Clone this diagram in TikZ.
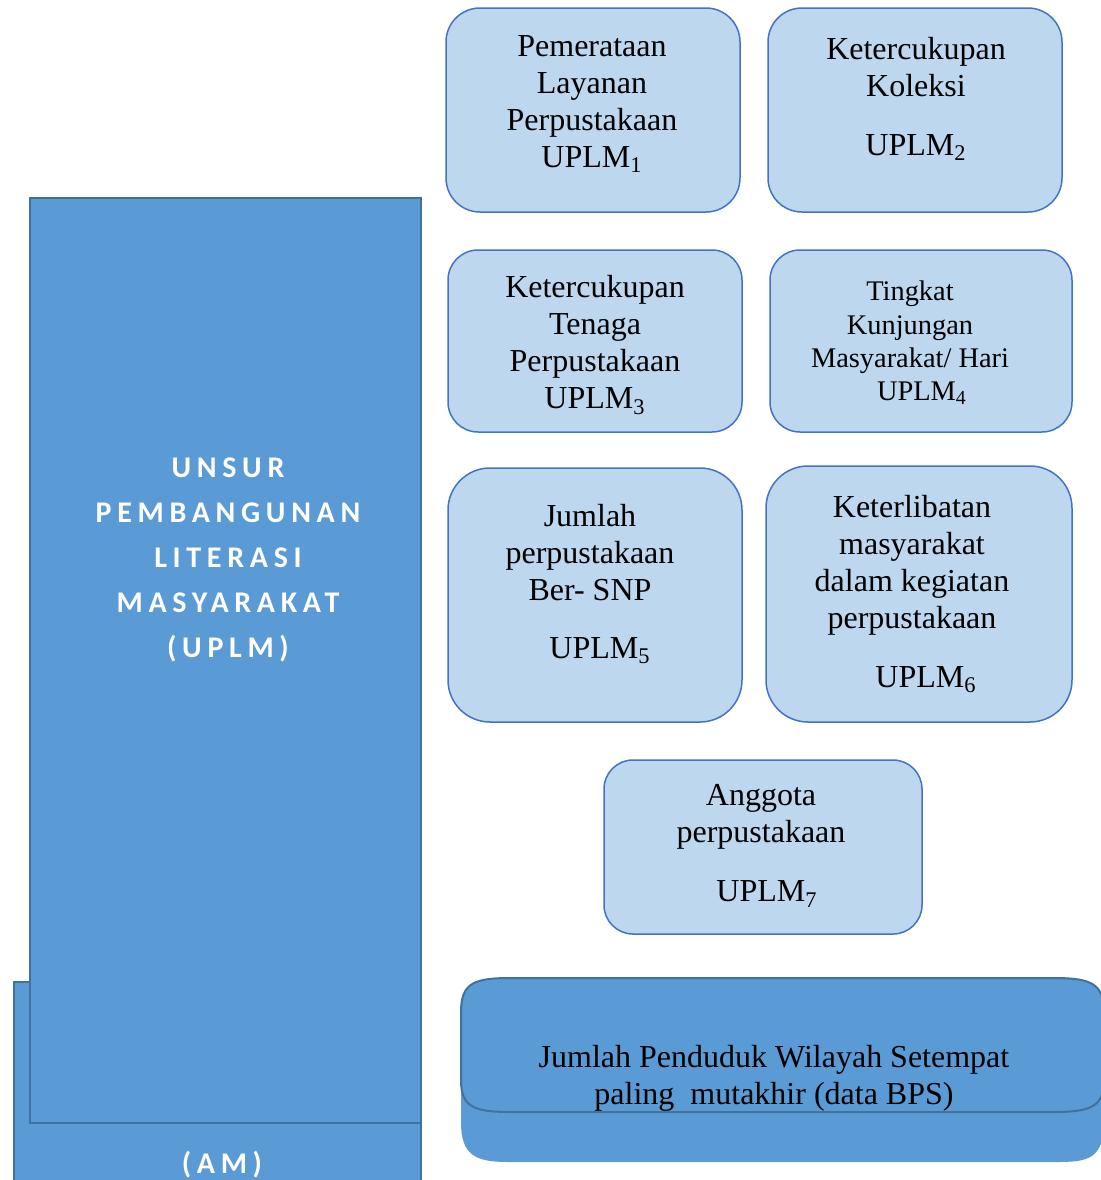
\documentclass[tikz,border=0pt]{standalone}
\usepackage{fontspec}
\setmainfont{Liberation Serif}
\newfontfamily\uplmfont[LetterSpace=19]{Carlito}
\usepackage{tikz}
\usepackage{xcolor}

\definecolor{birutua}{HTML}{5B9BD5}
\definecolor{garistua}{HTML}{41719C}
\definecolor{birumuda}{HTML}{BDD7EE}
\definecolor{garismuda}{HTML}{4472C4}

\tikzset{
  kotak/.style={draw=garismuda, line width=0.75pt, fill=birumuda, inner sep=0pt},
  teks/.style={align=center, font=\fontsize{16}{18.5}\selectfont, inner sep=0pt},
  judul/.style={align=center, text=white, font=\fontsize{15}{22.5}\selectfont\uplmfont\bfseries, inner sep=0pt}
}

\begin{document}
\begin{tikzpicture}[x=0.5pt, y=-0.5pt]
        \useasboundingbox (0,0) rectangle (1100,1180);
        % UPLM di kiri
        \fill[birutua, draw=garistua, line width=1pt] (14,982) rectangle (421,1200);
        \fill[birutua, draw=garistua, line width=1pt] (30,198) rectangle (421,1123);
        \node[judul] (unsur) at (228,560) {UNSUR\\PEMBANGUNAN\\LITERASI\\MASYARAKAT\\(UPLM)};
        \node[judul] (am) at (222,1165) {(AM)};
        % kotak UPLM 1-7
        \node[kotak, rounded corners=17pt, minimum width=147pt, minimum height=102pt] (u1) at (593,110) {};
        \node[kotak, rounded corners=17pt, minimum width=147pt, minimum height=102pt] (u2) at (915,110) {};
        \node[kotak, rounded corners=15pt, minimum width=147pt, minimum height=91pt] (u3) at (595,341) {};
        \node[kotak, rounded corners=15pt, minimum width=151pt, minimum height=91pt] (u4) at (921,341) {};
        \node[kotak, rounded corners=21pt, minimum width=147pt, minimum height=127pt] (u5) at (595,595) {};
        \node[kotak, rounded corners=21pt, minimum width=153pt, minimum height=128pt] (u6) at (919,594) {};
        \node[kotak, rounded corners=14.5pt, minimum width=159pt, minimum height=87pt] (u7) at (763,847) {};
        \node[teks] (t1) at (592,104) {Pemerataan\\Layanan\\Perpustakaan\\UPLM\textsubscript{1}};
        \node[teks] (t2) at (916,99) {Ketercukupan\\Koleksi\\[11pt]UPLM\textsubscript{2}};
        \node[teks] (t3) at (595,345) {Ketercukupan\\Tenaga\\Perpustakaan\\UPLM\textsubscript{3}};
        \node[teks, font=\fontsize{14.2}{16.6}\selectfont] (t4) at (910,343) {Tingkat\\Kunjungan\\Masyarakat/ Hari\\\hspace*{12pt}UPLM\textsubscript{4}};
        \node[teks] (t5) at (590,584) {Jumlah\\perpustakaan\\Ber- SNP\\[10.5pt]\hspace*{10pt}UPLM\textsubscript{5}};
        \node[teks] (t6) at (912,594) {Keterlibatan\\masyarakat\\dalam kegiatan\\perpustakaan\\[11pt]\hspace*{14pt}UPLM\textsubscript{6}};
        \node[teks] (t7) at (761,846) {Anggota\\perpustakaan\\[11pt]\hspace*{6pt}UPLM\textsubscript{7}};
        % jumlah penduduk
        \fill[birutua] (461,1012) .. controls (461,982) and (475,978) .. (512,978) -- (1052,978)
            .. controls (1089,978) and (1104,982) .. (1104,1012) -- (1104,1120)
            .. controls (1104,1160) and (1088,1162) .. (1055,1162) -- (508,1162)
            .. controls (475,1162) and (461,1155) .. (461,1122) -- cycle;
        \fill[birutua, draw=garistua, line width=1pt] (461,1012) .. controls (461,982) and (475,978) .. (512,978) -- (1052,978)
            .. controls (1089,978) and (1104,982) .. (1104,1012) -- (1104,1080)
            .. controls (1104,1108) and (1089,1112) .. (1052,1112) -- (512,1112)
            .. controls (475,1112) and (461,1108) .. (461,1080) -- cycle;
        \node[teks] (penduduk) at (774,1078) {Jumlah Penduduk Wilayah Setempat\\paling\ \ mutakhir (data BPS)};
    \end{tikzpicture}
\end{document}
